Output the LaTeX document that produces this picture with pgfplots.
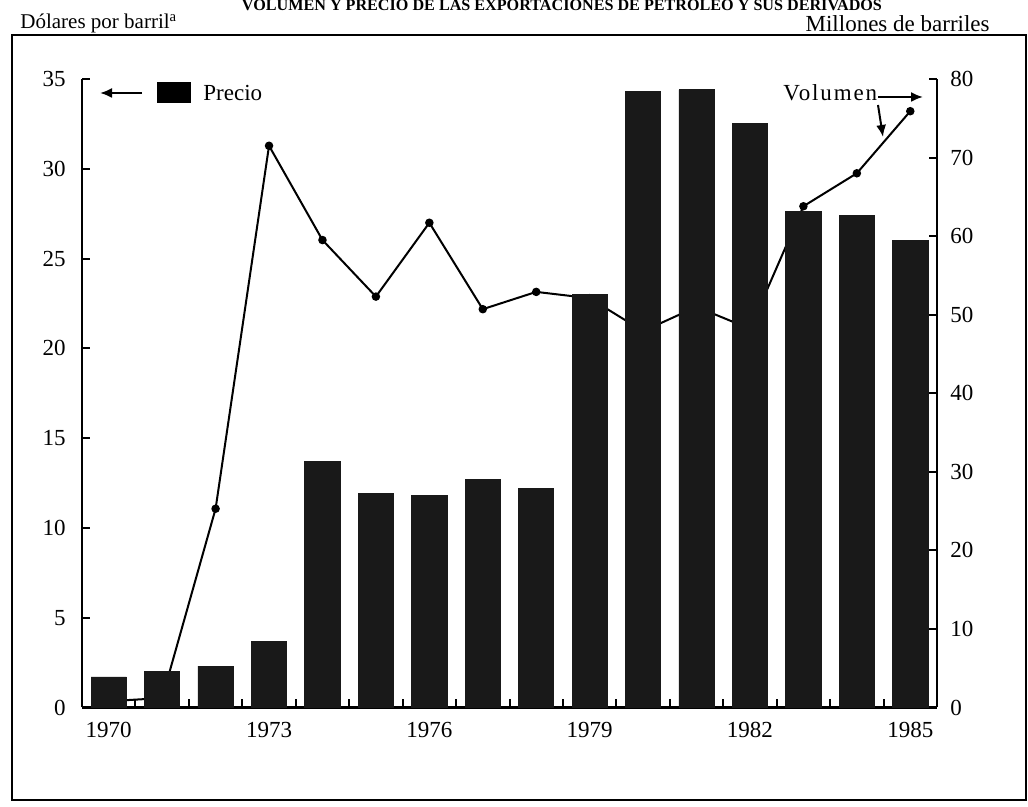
\documentclass[border=0pt]{standalone}
\usepackage{fontspec}
\setmainfont{Liberation Serif}
\usepackage{graphicx}
\usepackage{pgfplots}
\usepackage{pgfplotstable}
\pgfplotsset{compat=1.18}
\usetikzlibrary{arrows.meta}

% precio (dolares por barril), eje izquierdo
\pgfplotstableread{
anio precio
1970 1.7
1971 2.0
1972 2.3
1973 3.7
1974 13.7
1975 11.9
1976 11.8
1977 12.7
1978 12.2
1979 23.0
1980 34.3
1981 34.4
1982 32.5
1983 27.6
1984 27.4
1985 26.0
}\precio

% volumen (millones de barriles), eje derecho
\pgfplotstableread{
anio volumen
1970 0.8
1971 1.2
1972 25.3
1973 71.5
1974 59.5
1975 52.3
1976 61.7
1977 50.7
1978 52.9
1979 52.1
1980 47.9
1981 51.0
1982 48.2
1983 63.8
1984 68.0
1985 75.9
}\volumen

\begin{document}
\begin{tikzpicture}
\pgfplotsset{
  base/.style={
    scale only axis, width=427.5pt, height=314.25pt,
    at={(41pt,49.75pt)}, anchor=south west,
    xmin=1969.5, xmax=1985.5, ymin=0,
    tick align=inside, major tick length=4pt, minor tick length=4pt,
    axis line style={line width=1.2pt},
    tick style={line width=1pt, black},
    tick label style={font=\fontsize{11.5}{13}\selectfont},
    /pgf/number format/assume math mode=true,
    /pgf/number format/1000 sep={},
    clip=false,
  }
}

% volumen (linea) primero, las barras la tapan
\begin{axis}[base, ymax=80,
  axis y line*=right, axis x line=none,
  ytick={0,10,...,80},
  yticklabel style={xshift=3.2pt}]
\addplot[black, line width=1pt, mark=*, mark size=1.6pt] table[x=anio, y=volumen] {\volumen};
\end{axis}

\begin{axis}[base, ymax=35,
  axis y line*=left, axis x line*=bottom,
  ytick={0,5,...,35},
  yticklabel style={xshift=-4.6pt},
  xtick={1970,1973,1976,1979,1982,1985},
  major x tick style={draw=none},
  minor xtick={1970.5,1971.5,1972.5,1973.5,1974.5,1975.5,1976.5,1977.5,1978.5,1979.5,1980.5,1981.5,1982.5,1983.5,1984.5},
  xticklabel style={yshift=-4pt}]
\addplot[ybar, bar width=0.66, fill=black!90, draw=black!90] table[x=anio, y=precio] {\precio};
\end{axis}

% marco y textos
\draw[line width=1.2pt] (6pt,3.5pt) rectangle (513pt,386pt);
\node[anchor=base, inner sep=0] at (281pt,398pt) {\resizebox{320pt}{!}{\bfseries VOLUMEN Y PRECIO DE LAS EXPORTACIONES DE PETROLEO Y SUS DERIVADOS}};
\node[anchor=base west, inner sep=0] at (10pt,389pt) {\fontsize{10.5}{12}\selectfont Dólares por barril\textsuperscript{a}};
\node[anchor=base east, inner sep=0] at (495pt,387.5pt) {\fontsize{11.5}{13}\selectfont Millones de barriles};

% leyenda
\draw[-{Latex[length=6pt,width=5pt]}, line width=1pt] (71pt,357pt) -- (50pt,357pt);
\fill[black] (78.5pt,352pt) rectangle (95.5pt,362.5pt);
\node[anchor=west, inner sep=0] at (101.5pt,357pt) {\fontsize{11.5}{13}\selectfont Precio};
\node[anchor=west, inner sep=0] at (391.5pt,357pt) {\fontsize{11.5}{13}\selectfont\addfontfeatures{LetterSpace=8}Volumen};
\draw[-{Latex[length=6pt,width=5pt]}, line width=1pt] (439pt,355pt) -- (461.5pt,355pt);
\draw[-{Latex[length=6pt,width=5pt]}, line width=1pt] (439pt,351pt) -- (441.5pt,335pt);

\pgfresetboundingbox
\path[use as bounding box] (0,0) rectangle (514pt,403.5pt);
\end{tikzpicture}
\end{document}
